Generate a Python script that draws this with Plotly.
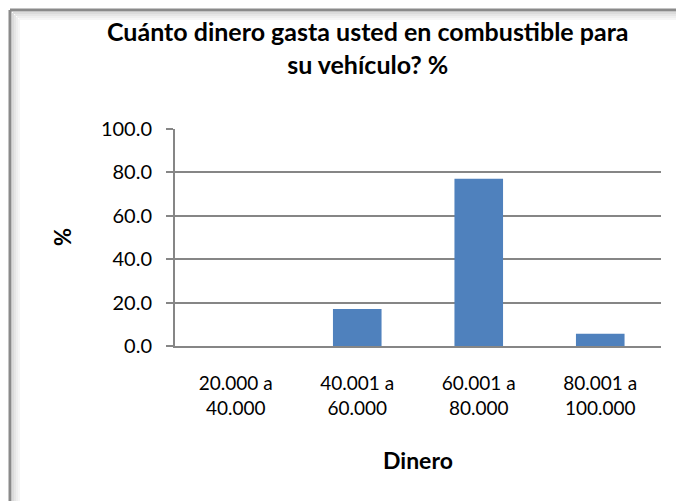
import plotly.graph_objects as go

# Survey results: fuel spending ranges and share of respondents (%)
categories = ["20.000 a<br>40.000", "40.001 a<br>60.000", "60.001 a<br>80.000", "80.001 a<br>100.000"]
percentages = [0.0, 17.1, 77.1, 5.7]
y_ticks = [0, 20, 40, 60, 80, 100]
y_tick_labels = ["0.0", "20.0", "40.0", "60.0", "80.0", "100.0"]

title_text = "Cuánto dinero gasta usted en combustible para<br>su vehículo? %"
x_title = "Dinero"
y_title = "%"

FONT = "Lato"
AXIS_GRAY = "#868686"

fig = go.Figure(
    go.Bar(
        x=categories,
        y=percentages,
        marker=dict(color="#4F81BD", line=dict(width=0)),
        width=0.4,
    )
)

W, H = 680, 502
ml, mr, mt, mb = 175, 19, 129, 156
pw, ph = W - ml - mr, H - mt - mb


def px_x(v):
    return (v - ml) / pw


def px_y(v):
    return (H - mb - v) / ph


def frame_lines(off, color, width):
    """Top and left edges of the chart-area frame (the rest runs off the page)."""
    return [
        dict(type="line", xref="paper", yref="paper",
             x0=px_x(off), x1=px_x(W - 4), y0=px_y(off), y1=px_y(off),
             line=dict(color=color, width=width), layer="below"),
        dict(type="line", xref="paper", yref="paper",
             x0=px_x(off), x1=px_x(off), y0=px_y(off), y1=px_y(H - 1),
             line=dict(color=color, width=width), layer="below"),
    ]


shapes = []
# Soft inner shade, lightest farthest from the edge
for i, col in enumerate(["#f6f6f6", "#efefef", "#e6e6e6", "#dbdbdb"]):
    shapes += frame_lines(13 + (3 - i) * 2, col, 2)
shapes += frame_lines(10, "#8a8a8a", 3)

annotations = [
    dict(text=title_text, xref="paper", yref="paper", x=px_x(368), y=px_y(47),
         xanchor="center", yanchor="middle", showarrow=False,
         font=dict(family=FONT, size=25, color="black", weight="bold")),
    dict(text=x_title, xref="paper", yref="paper", x=px_x(418), y=px_y(460),
         xanchor="center", yanchor="middle", showarrow=False,
         font=dict(family=FONT, size=23, color="black", weight="bold")),
    dict(text=y_title, xref="paper", yref="paper", x=px_x(62), y=px_y(237),
         xanchor="center", yanchor="middle", showarrow=False, textangle=-90,
         font=dict(family=FONT, size=22, color="black", weight="bold")),
]

fig.update_layout(
    width=W, height=H,
    margin=dict(l=ml, r=mr, t=mt, b=mb, pad=0),
    paper_bgcolor="white", plot_bgcolor="white",
    showlegend=False,
    shapes=shapes,
    annotations=annotations,
    font=dict(family=FONT, color="black"),
    bargap=0.6,
)

fig.update_xaxes(
    type="category",
    showline=True, linecolor=AXIS_GRAY, linewidth=2,
    ticks="", showgrid=False,
    tickfont=dict(family=FONT, size=19, color="black"),
    ticklabelstandoff=19,
)
fig.update_yaxes(
    range=[0, 100],
    tickvals=y_ticks, ticktext=y_tick_labels,
    showline=True, linecolor=AXIS_GRAY, linewidth=2,
    ticks="outside", ticklen=7, tickcolor=AXIS_GRAY, tickwidth=2,
    showgrid=True, gridcolor=AXIS_GRAY, gridwidth=2,
    zeroline=False,
    tickfont=dict(family=FONT, size=20, color="black"),
    ticklabelstandoff=10,
)

fig.write_html("out.html", config={"displayModeBar": False})
